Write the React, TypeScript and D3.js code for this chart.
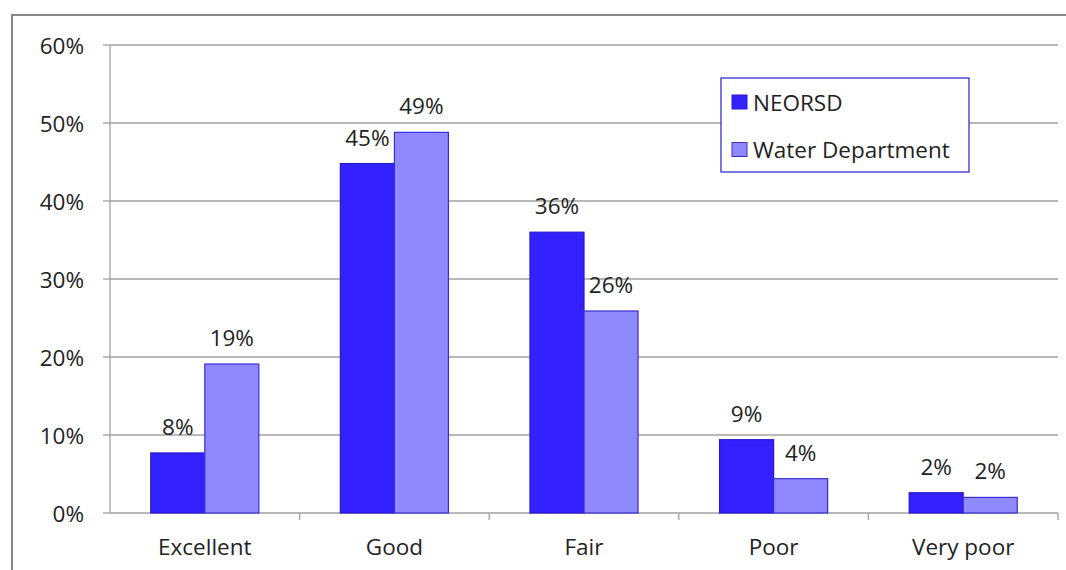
import React from "react";
import * as d3 from "d3";

const categories = ["Excellent", "Good", "Fair", "Poor", "Very poor"];
const seriesNames = ["NEORSD", "Water Department"];
const neorsd = [7.7, 44.8, 36.0, 9.4, 2.6];
const waterDept = [19.1, 48.8, 25.9, 4.4, 2.0];
const neorsdLabels = ["8%", "45%", "36%", "9%", "2%"];
const waterLabels = ["19%", "49%", "26%", "4%", "2%"];
const yTicks = [0, 10, 20, 30, 40, 50, 60];

const W = 1066;
const H = 570;
const FONT = "'Open Sans', sans-serif";
const FS = 22.5;
const colors = ["#3322FF", "#9088FF"];
const strokes = ["#2A1ACC", "#3A2FD0"];

export default function App() {
  const left = 110;
  const right = 1058;
  const top = 45;
  const bottom = 513;
  const x = d3.scaleBand<string>().domain(categories).range([left, right]).paddingInner(0).paddingOuter(0);
  const y = d3.scaleLinear().domain([0, 60]).range([bottom, top]);
  const bw = x.bandwidth();
  const barW = bw * 0.285;
  const series = [neorsd, waterDept];
  const labels = [neorsdLabels, waterLabels];

  return (
    <svg width={W} height={H} style={{ position: "absolute", left: 0, top: 0, background: "#fff" }}>
      <rect x={12} y={15} width={W + 20} height={H + 20} fill="#fff" stroke="#888" strokeWidth={2} />
      {yTicks.map((t) => (
        <g key={t}>
          {t > 0 && <line x1={left} x2={right} y1={y(t)} y2={y(t)} stroke="#A0A0A0" strokeWidth={1.3} />}
          <line x1={left - 7} x2={left} y1={y(t)} y2={y(t)} stroke="#A0A0A0" strokeWidth={1.3} />
          <text x={84} y={y(t)} textAnchor="end" dominantBaseline="central" fontFamily={FONT} fontSize={FS} fill="#222">
            {t}%
          </text>
        </g>
      ))}
      <line x1={left} x2={left} y1={top} y2={bottom} stroke="#A0A0A0" strokeWidth={1.3} />
      <line x1={left} x2={right} y1={bottom} y2={bottom} stroke="#A0A0A0" strokeWidth={1.3} />
      {categories.map((c, i) => (
        <line key={"t" + c} x1={left + bw * (i + 1)} x2={left + bw * (i + 1)} y1={bottom} y2={bottom + 7} stroke="#A0A0A0" strokeWidth={1.3} />
      ))}
      {categories.map((c) => {
        const cx = (x(c) as number) + bw / 2;
        return (
          <text key={"c" + c} x={cx} y={555} textAnchor="middle" fontFamily={FONT} fontSize={FS} fill="#222">
            {c}
          </text>
        );
      })}
      {series.map((vals, s) =>
        categories.map((c, i) => {
          const cx = (x(c) as number) + bw / 2;
          const bx = cx - barW + s * barW;
          const yt = y(vals[i]);
          return (
            <g key={s + "-" + c}>
              <rect x={bx} y={yt} width={barW} height={bottom - yt} fill={colors[s]} stroke={strokes[s]} strokeWidth={1.2} />
              <text x={bx + barW / 2} y={yt - 18} textAnchor="middle" fontFamily={FONT} fontSize={FS} fill="#222">
                {labels[s][i]}
              </text>
            </g>
          );
        })
      )}
      <rect x={721} y={78} width={248} height={94} fill="#fff" stroke="#3333CC" strokeWidth={1.3} />
      {seriesNames.map((n, i) => (
        <g key={n}>
          <rect x={732} y={95 + i * 47.5} width={15} height={14} fill={colors[i]} stroke={strokes[i]} strokeWidth={1} />
          <text x={753} y={102 + i * 47} dominantBaseline="central" fontFamily={FONT} fontSize={FS} fill="#222">
            {n}
          </text>
        </g>
      ))}
    </svg>
  );
}
